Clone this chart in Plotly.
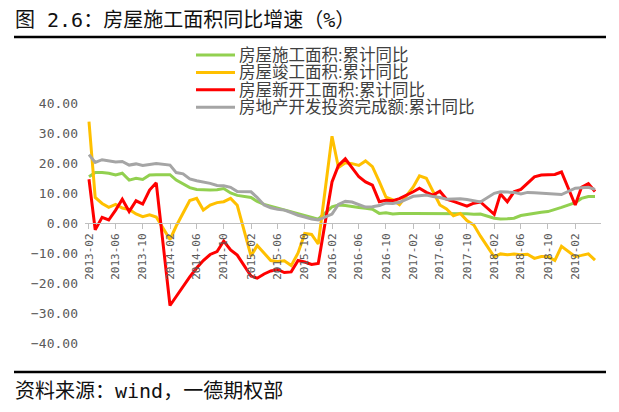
import plotly.graph_objects as go

# ---------------- data ----------------
years = [2013, 2014, 2015, 2016, 2017, 2018, 2019]
months_2019 = 5  # data through 2019-05 (January not published)
dates = [f"{y}-{m:02d}" for y in years for m in range(2, 13)
         if y < 2019 or m <= months_2019]

series_names = [
    "房屋施工面积:累计同比",
    "房屋竣工面积:累计同比",
    "房屋新开工面积:累计同比",
    "房地产开发投资完成额:累计同比",
]
series_colors = ["#92D050", "#FFC000", "#FF0000", "#A5A5A5"]

construction = [
    15.4, 16.8, 16.8, 16.6, 16.0, 16.6, 14.3, 14.9, 14.5, 16.0, 16.1,
    16.1, 14.3, 13.0, 11.8, 11.2, 11.0, 11.0, 11.1, 11.5, 10.0, 9.2,
    8.5, 7.2, 6.2, 5.6, 5.0, 4.4, 3.8, 3.1, 2.6, 2.0, 1.3,
    5.4, 6.0, 5.8, 5.4, 5.2, 4.9, 4.6, 3.2, 3.4, 3.0, 3.2,
    3.2, 3.2, 3.1, 3.0, 3.0, 3.0, 3.1, 3.1, 3.1, 2.9, 3.0,
    1.6, 1.3, 1.4, 1.6, 2.5, 2.9, 3.4, 3.6, 3.8, 4.4, 5.2,
    6.8, 8.2, 8.8, 8.8,
]
completed = [
    33.8, 8.5, 6.5, 5.2, 6.2, 5.0, 4.5, 3.0, 2.1, 2.7, 2.0,
    -5.5, -1.0, 3.5, 7.5, 8.2, 4.3, 6.0, 6.8, 7.1, 8.2, 5.9,
    -11.0, -7.5, -10.0, -12.5, -12.8, -12.6, -14.2, -10.0, -3.5, -3.8, -7.0,
    28.9, 18.5, 20.1, 19.8, 19.2, 20.7, 18.8, 13.8, 8.6, 7.7, 6.1,
    12.0, 15.7, 14.9, 10.4, 6.0, 4.7, 2.4, 3.2, 0.8, -0.7, -4.4,
    -11.3, -10.3, -10.6, -10.3, -10.6, -10.4, -11.8, -11.2, -11.2, -12.5, -7.8,
    -11.2, -10.8, -10.3, -12.4,
]
new_starts = [
    14.6, -2.3, 1.9, 1.0, 4.3, 7.9, 3.8, 7.4, 6.3, 11.0, 13.4,
    -27.5, -24.5, -21.0, -18.0, -15.0, -12.5, -10.5, -9.5, -6.0, -9.0, -10.7,
    -17.7, -18.4, -17.0, -16.0, -15.5, -16.5, -16.3, -12.5, -13.0, -13.8, -13.5,
    13.7, 19.2, 21.4, 18.5, 15.4, 13.7, 12.6, 7.1, 7.6, 7.4, 8.1,
    10.4, 11.6, 10.2, 9.3, 10.6, 7.9, 7.2, 6.5, 5.6, 6.6, 7.0,
    2.9, 9.7, 7.1, 10.4, 11.2, 13.2, 15.4, 16.0, 16.0, 16.2, 17.0,
    6.0, 11.9, 13.1, 10.5,
]
investment = [
    22.8, 20.2, 21.1, 20.6, 20.3, 20.5, 19.3, 19.7, 19.2, 19.5, 19.8,
    19.3, 16.8, 16.4, 14.7, 14.1, 13.7, 13.2, 12.5, 12.4, 11.9, 10.5,
    10.4, 8.5, 6.0, 5.1, 4.6, 4.3, 3.5, 2.6, 2.0, 1.3, 1.0,
    3.0, 6.2, 7.2, 7.0, 6.1, 5.3, 5.4, 5.8, 6.6, 6.5, 6.9,
    8.9, 9.1, 9.3, 8.8, 8.5, 7.9, 7.9, 8.1, 7.8, 7.5, 7.0,
    9.9, 10.4, 10.3, 10.2, 9.7, 10.2, 10.1, 9.9, 9.7, 9.7, 9.5,
    11.6, 11.8, 11.9, 11.2,
]
series_values = [construction, completed, new_starts, investment]

y_ticks = [-40, -30, -20, -10, 0, 10, 20, 30, 40]
title_text = "图 2.6：房屋施工面积同比增速（%）"
source_text = "资料来源：wind，一德期权部"

# ---------------- layout geometry ----------------
# page pixels; the page body has an 8px default margin
OFF = 8
W, H = 619 - OFF, 412 - OFF
PLOT_L, PLOT_R, PLOT_T, PLOT_B = 85, 601, 103, 343   # page pixels
ML = PLOT_L - OFF
MT = PLOT_T - OFF
MR = W - (PLOT_R - OFF)
MB = H - (PLOT_B - OFF)
PW, PH = PLOT_R - PLOT_L, PLOT_B - PLOT_T


def px(x):
    return (x - PLOT_L) / PW


def py(y):
    return (PLOT_B - y) / PH


fig = go.Figure()
for name, vals, col in zip(series_names, series_values, series_colors):
    fig.add_trace(go.Scatter(
        x=dates, y=vals, name=name, mode="lines",
        line=dict(color=col, width=3), showlegend=False,
    ))

shapes = []
annotations = []
# manual legend
for i, (name, col) in enumerate(zip(series_names, series_colors)):
    yy = py(55 + 17.4 * i)
    shapes.append(dict(type="line", xref="paper", yref="paper",
                       x0=px(196), x1=px(235), y0=yy, y1=yy,
                       line=dict(color=col, width=3)))
    annotations.append(dict(xref="paper", yref="paper", x=px(237), y=yy,
                            text=name, showarrow=False, xanchor="left",
                            yanchor="middle",
                            font=dict(family="Liberation Sans, Noto Sans CJK SC",
                                      size=16.5, color="#404040")))

# header / footer rules
for yline in (37, 372):
    shapes.append(dict(type="line", xref="paper", yref="paper",
                       x0=px(14), x1=px(606), y0=py(yline), y1=py(yline),
                       line=dict(color="#000000", width=2.5)))

annotations.append(dict(xref="paper", yref="paper", x=px(13), y=py(20),
                        text=title_text, showarrow=False, xanchor="left",
                        yanchor="middle",
                        font=dict(family="DejaVu Sans Mono, Noto Sans CJK SC",
                                  size=20, color="#111111")))
annotations.append(dict(xref="paper", yref="paper", x=px(13), y=py(391),
                        text=source_text, showarrow=False, xanchor="left",
                        yanchor="middle",
                        font=dict(family="DejaVu Sans Mono, Noto Sans CJK SC",
                                  size=20, color="#111111")))

fig.update_layout(
    width=W, height=H,
    margin=dict(l=ML, r=MR, t=MT, b=MB, pad=0),
    paper_bgcolor="white", plot_bgcolor="white",
    shapes=shapes, annotations=annotations,
    xaxis=dict(
        type="date", range=["2013-01-14", "2019-05-28"],
        anchor="free", position=0.5,
        showline=True, linecolor="#BFBFBF", linewidth=1,
        ticks="outside", ticklen=5, tickcolor="#BFBFBF",
        tick0="2013-02-01", dtick="M4", tickformat="%Y-%m",
        tickangle=-90,
        tickfont=dict(family="DejaVu Sans Mono", size=11, color="#595959"),
        showgrid=False, zeroline=False,
    ),
    yaxis=dict(
        range=[-40, 40], tickvals=y_ticks, tickformat=".2f",
        showline=False, showgrid=False, zeroline=False, ticks="",
        tickfont=dict(family="DejaVu Sans Mono", size=13, color="#595959"),
        ticklabelstandoff=6,
    ),
)

fig.write_html("out.html")
